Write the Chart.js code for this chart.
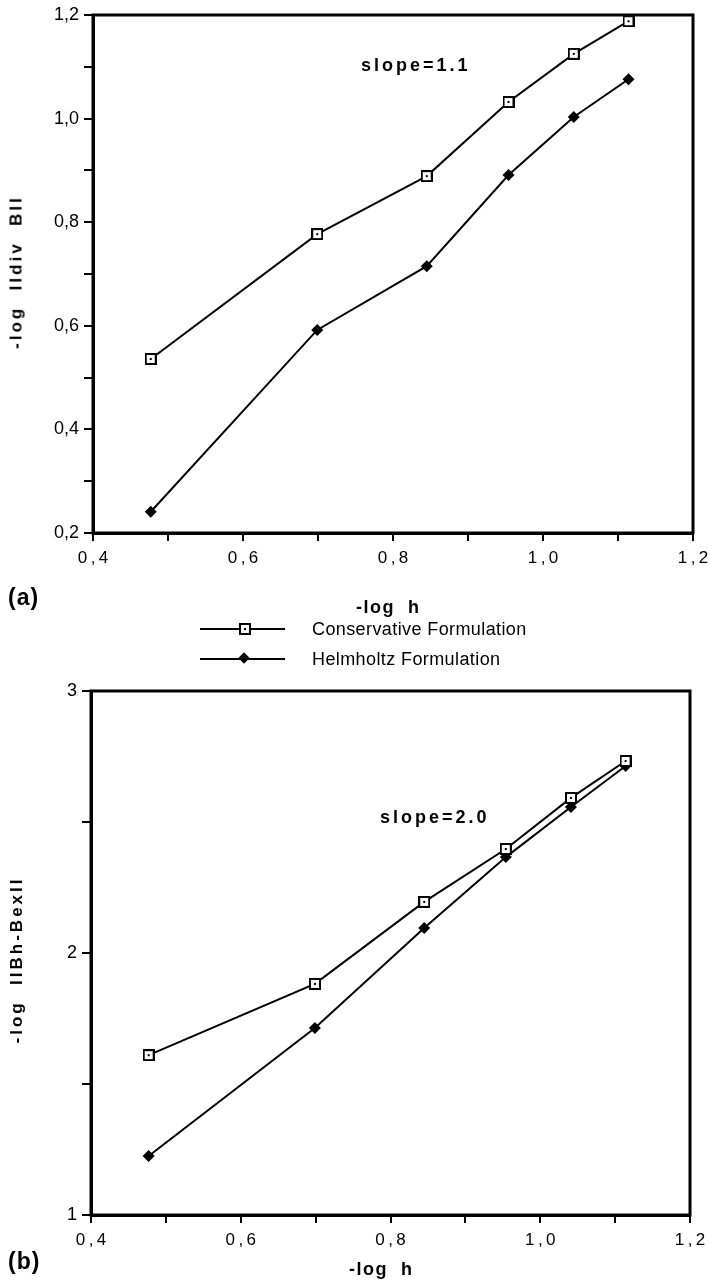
<!DOCTYPE html>
<html>
<head>
<meta charset="utf-8">
<script src="https://cdn.jsdelivr.net/npm/chart.js@4.4.1/dist/chart.umd.min.js"></script>
<style>
  body { margin: 0; background: #fff; }
  #page { position: relative; width: 710px; height: 1282px; overflow: hidden; font-family: "Liberation Sans", Arial, sans-serif; color: #000; }
  #page canvas { position: absolute; left: 0; }
  .txt { position: absolute; white-space: pre; line-height: 1; }
  .slope { font-weight: bold; font-size: 18px; letter-spacing: 3px; }
  .panel { font-weight: bold; font-size: 23px; letter-spacing: 1px; }
  .xtitle { font-weight: bold; font-size: 18px; letter-spacing: 1.5px; }
  .ytitle { font-weight: bold; font-size: 17px; letter-spacing: 3px; transform: translate(-50%, -50%) rotate(-90deg); }
  .legrow { position: absolute; left: 200px; height: 20px; width: 400px; }
  .legline { position: absolute; left: 0; top: 9px; width: 85px; height: 2px; background: #000; }
  .legsq { position: absolute; left: 39px; top: 4px; width: 8px; height: 8px; border: 2px solid #000; background: #fff; }
  .legsq::after { content: ""; position: absolute; left: 3px; top: 3px; width: 2px; height: 2px; background: #000; }
  .legdia { position: absolute; left: 40px; top: 5px; width: 8px; height: 8px; background: #000; transform: rotate(45deg); }
  .legtext { position: absolute; left: 112px; top: 0px; font-size: 18px; letter-spacing: 0.4px; }
</style>
</head>
<body>
<div id="page">
  <canvas id="divChart" width="710" height="600" style="top:0;width:710px;height:600px"></canvas>
  <canvas id="errChart" width="710" height="622" style="top:660px;width:710px;height:622px"></canvas>

  <div class="txt ytitle" style="left:16px;top:272px">-log  IIdiv  BII</div>
  <div class="txt ytitle" style="left:16px;top:960px">-log  IIBh-BexII</div>

  <div class="txt slope" style="left:361px;top:56px">slope=1.1</div>
  <div class="txt panel" style="left:8px;top:586px">(a)</div>
  <div class="txt xtitle" style="left:356px;top:598px">-log  h</div>

  <div class="legrow" style="top:619px">
    <div class="legline"></div><div class="legsq"></div>
    <div class="legtext">Conservative Formulation</div>
  </div>
  <div class="legrow" style="top:649px">
    <div class="legline"></div><div class="legdia"></div>
    <div class="legtext">Helmholtz Formulation</div>
  </div>

  <div class="txt slope" style="left:380px;top:808px">slope=2.0</div>
  <div class="txt panel" style="left:8px;top:1250px">(b)</div>
  <div class="txt xtitle" style="left:349px;top:1260px">-log  h</div>
</div>
<script>
const logH = [0.477, 0.699, 0.845, 0.954, 1.041, 1.114];

const divConservative = [0.536, 0.777, 0.889, 1.032, 1.125, 1.188];
const divHelmholtz = [0.241, 0.592, 0.715, 0.891, 1.003, 1.076];

const errConservative = [1.61, 1.882, 2.195, 2.397, 2.592, 2.733];
const errHelmholtz = [1.225, 1.714, 2.095, 2.366, 2.557, 2.714];

const xTickValues = [0.4, 0.5, 0.6, 0.7, 0.8, 0.9, 1.0, 1.1, 1.2];
const xTickLabels = ["0\u2009,\u20094", "", "0\u2009,\u20096", "", "0\u2009,\u20098", "", "1\u2009,\u20090", "", "1\u2009,\u20092"];

const divTickValues = [0.2, 0.3, 0.4, 0.5, 0.6, 0.7, 0.8, 0.9, 1.0, 1.1, 1.2];
const divTickLabels = ["0,2", "", "0,4", "", "0,6", "", "0,8", "", "1,0", "", "1,2"];

const errTickValues = [1, 1.5, 2, 2.5, 3];
const errTickLabels = ["1", "", "2", "", "3"];

// square marker with a dot in the middle
const squareMark = document.createElement("canvas");
squareMark.width = 12;
squareMark.height = 12;
(function () {
  const c = squareMark.getContext("2d");
  c.fillStyle = "#fff";
  c.fillRect(0, 0, 12, 12);
  c.strokeStyle = "#000";
  c.lineWidth = 2;
  c.strokeRect(1, 1, 10, 10);
  c.fillStyle = "#000";
  c.fillRect(5, 5, 2, 2);
})();

const framePlugin = {
  id: "frame",
  beforeDatasetsDraw(chart) {
    const a = chart.chartArea;
    const c = chart.ctx;
    c.save();
    c.strokeStyle = "#000";
    c.lineWidth = 3;
    c.strokeRect(a.left, a.top, a.right - a.left, a.bottom - a.top);
    c.restore();
  },
};

const fontFamily = "'Liberation Sans', Arial, sans-serif";

function pairs(xs, ys) {
  return xs.map((x, i) => ({ x: x, y: ys[i] }));
}

function makeChart(id, ysCons, ysHelm, yValues, yLabels, yWidth, pad) {
  return new Chart(document.getElementById(id).getContext("2d"), {
    type: "line",
    data: {
      datasets: [
        {
          label: "Conservative Formulation",
          data: pairs(logH, ysCons),
          borderColor: "#000",
          borderWidth: 2,
          pointStyle: squareMark,
          pointRadius: 6,
          tension: 0,
          clip: false,
        },
        {
          label: "Helmholtz Formulation",
          data: pairs(logH, ysHelm),
          borderColor: "#000",
          backgroundColor: "#000",
          borderWidth: 2,
          pointStyle: "rectRot",
          pointRadius: 6,
          pointBorderWidth: 0,
          tension: 0,
          clip: false,
        },
      ],
    },
    options: {
      responsive: false,
      animation: false,
      layout: { padding: pad },
      plugins: { legend: { display: false }, tooltip: { enabled: false } },
      scales: {
        x: {
          type: "linear",
          min: xTickValues[0],
          max: xTickValues[xTickValues.length - 1],
          afterBuildTicks: (s) => { s.ticks = xTickValues.map((v) => ({ value: v })); },
          afterFit: (s) => {
            s.height = 67;
            s.paddingLeft = 0;
            s.paddingRight = 0;
          },
          ticks: {
            autoSkip: false,
            maxRotation: 0,
            padding: 7,
            color: "#000",
            font: { family: fontFamily, size: 17 },
            callback: (v, i) => xTickLabels[i],
          },
          grid: { drawOnChartArea: false, tickLength: 8, color: "#000", lineWidth: 2 },
          border: { color: "#000", width: 3 },
        },
        y: {
          type: "linear",
          min: yValues[0],
          max: yValues[yValues.length - 1],
          afterBuildTicks: (s) => { s.ticks = yValues.map((v) => ({ value: v })); },
          afterFit: (s) => {
            s.width = yWidth;
            s.paddingTop = 0;
            s.paddingBottom = 0;
          },
          ticks: {
            autoSkip: false,
            padding: 5,
            color: "#000",
            font: { family: fontFamily, size: 18 },
            callback: (v, i) => yLabels[i],
          },
          grid: { drawOnChartArea: false, tickLength: 9, color: "#000", lineWidth: 2 },
          border: { color: "#000", width: 3 },
        },
      },
    },
    plugins: [framePlugin],
  });
}

makeChart("divChart", divConservative, divHelmholtz, divTickValues, divTickLabels,
  93, { top: 15, right: 17, left: 0, bottom: 0 });
makeChart("errChart", errConservative, errHelmholtz, errTickValues, errTickLabels,
  91, { top: 31, right: 20, left: 0, bottom: 0 });
</script>
</body>
</html>
